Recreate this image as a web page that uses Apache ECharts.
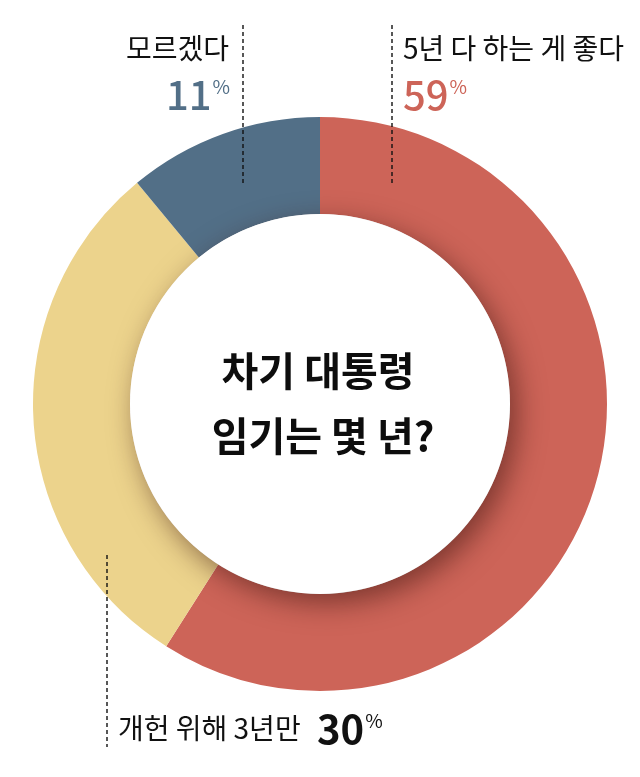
<!DOCTYPE html>
<html>
<head>
<meta charset="utf-8">
<script src="https://cdn.jsdelivr.net/npm/echarts@6/dist/echarts.min.js"></script>
<style>
html,body{margin:0;padding:0;background:#fff;}
#c{width:640px;height:777px;}
</style>
</head>
<body>
<div id="c"></div>
<script>
const categories = ['5년 다 하는 게 좋다', '개헌 위해 3년만', '모르겠다'];
const values = [59, 30, 11];
const colors = ['#CD6458', '#ECD38C', '#526F87'];
const titleLines = ['차기 대통령', '임기는 몇 년?'];

const FONT = '"Noto Sans CJK KR", "Noto Sans", sans-serif';
const chart = echarts.init(document.getElementById('c'));

function pctText(v) { return '{n|' + v + '}{p|%}'; }
function pctRich(color, bold) {
  return {
    n: { fontSize: 40, fontFamily: FONT, fontWeight: bold ? 'bold' : 500, fill: color, color: color, lineHeight: 44 },
    p: { fontSize: 19, fontFamily: FONT, fill: color, color: color, verticalAlign: 'top', lineHeight: 20, padding: [4, 0, 0, 1] }
  };
}

chart.setOption({
  animation: false,
  series: [{
    type: 'pie',
    center: [320, 404],
    radius: [190, 287],
    startAngle: 90,
    clockwise: true,
    silent: true,
    label: { show: false },
    labelLine: { show: false },
    itemStyle: { borderWidth: 0 },
    data: categories.map((c, i) => ({ name: c, value: values[i], itemStyle: { color: colors[i] } }))
  }],
  graphic: [
    {
      type: 'circle', shape: { cx: 320, cy: 404, r: 190 }, silent: true, z: 10,
      style: { fill: '#ffffff', shadowColor: 'rgba(60,20,15,0.55)', shadowBlur: 28, shadowOffsetX: 7, shadowOffsetY: 9 }
    },
    {
      type: 'text', x: 318, y: 371, z: 20, silent: true,
      style: { text: titleLines[0], font: 'bold 40px ' + FONT, fill: '#0d0d0d', align: 'center', verticalAlign: 'middle' }
    },
    {
      type: 'text', x: 323, y: 436, z: 20, silent: true,
      style: { text: titleLines[1], font: 'bold 40px ' + FONT, fill: '#0d0d0d', align: 'center', verticalAlign: 'middle' }
    },
    // dashed leader lines
    { type: 'line', z: 20, silent: true, shape: { x1: 243, y1: 25, x2: 243, y2: 183 }, style: { stroke: '#111', lineWidth: 1.4, lineDash: [4, 3] } },
    { type: 'line', z: 20, silent: true, shape: { x1: 392, y1: 25, x2: 392, y2: 183 }, style: { stroke: '#111', lineWidth: 1.4, lineDash: [4, 3] } },
    { type: 'line', z: 20, silent: true, shape: { x1: 107, y1: 555, x2: 107, y2: 747 }, style: { stroke: '#111', lineWidth: 1.4, lineDash: [4, 3] } },
    // labels
    {
      type: 'text', x: 229, y: 48, z: 20, silent: true,
      style: { text: categories[2], font: '28px ' + FONT, fill: '#111', align: 'right', verticalAlign: 'middle' }
    },
    {
      type: 'text', x: 230, y: 95, z: 20, silent: true,
      style: { text: pctText(values[2]), rich: pctRich(colors[2], false), align: 'right', verticalAlign: 'middle' }
    },
    {
      type: 'text', x: 403, y: 48, z: 20, silent: true,
      style: { text: categories[0], font: '28px ' + FONT, fill: '#111', align: 'left', verticalAlign: 'middle' }
    },
    {
      type: 'text', x: 403, y: 95, z: 20, silent: true,
      style: { text: pctText(values[0]), rich: pctRich(colors[0], false), align: 'left', verticalAlign: 'middle' }
    },
    {
      type: 'text', x: 118, y: 728, z: 20, silent: true,
      style: { text: categories[1], font: '28px ' + FONT, fill: '#111', align: 'left', verticalAlign: 'middle' }
    },
    {
      type: 'text', x: 317, y: 729, z: 20, silent: true,
      style: { text: pctText(values[1]), rich: pctRich('#111', true), align: 'left', verticalAlign: 'middle' }
    }
  ]
});
</script>
</body>
</html>
